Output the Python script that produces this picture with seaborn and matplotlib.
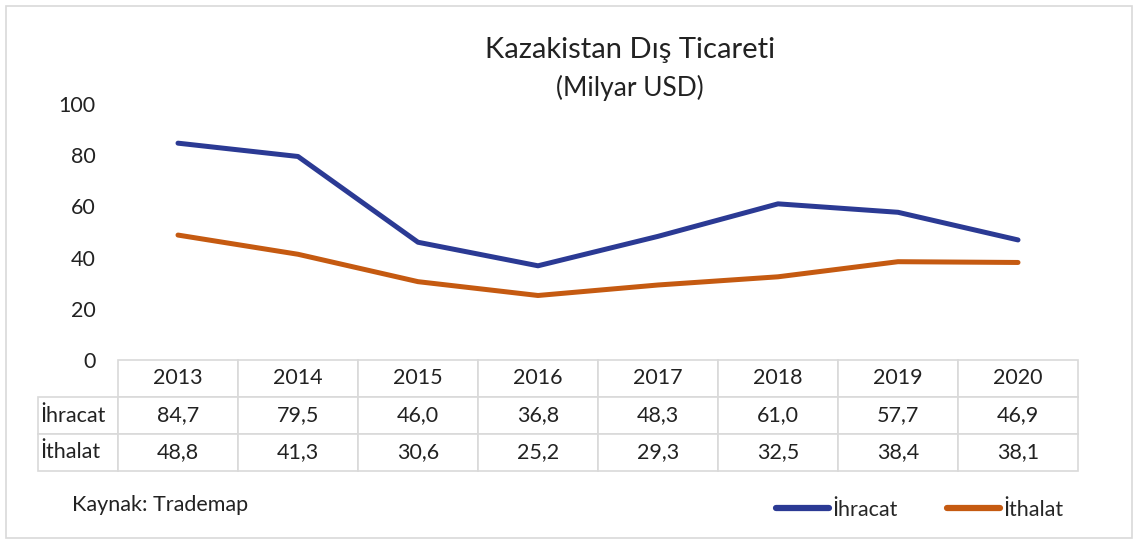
import pandas as pd
import matplotlib.pyplot as plt
import seaborn as sns
from matplotlib.patches import Rectangle
from matplotlib.lines import Line2D
from matplotlib.table import Table

years = [2013, 2014, 2015, 2016, 2017, 2018, 2019, 2020]
ihracat = [84.7, 79.5, 46.0, 36.8, 48.3, 61.0, 57.7, 46.9]
ithalat = [48.8, 41.3, 30.6, 25.2, 29.3, 32.5, 38.4, 38.1]
series_names = ['İhracat', 'İthalat']
colors = ['#2b3a94', '#c55a11']

sns.set_theme(style='white')
plt.rcParams['font.family'] = ['Lato', 'DejaVu Sans']

df = pd.DataFrame({'year': years * 2,
                   'value': ihracat + ithalat,
                   'seri': [series_names[0]] * len(years) + [series_names[1]] * len(years)})

W, H = 1140, 542
fig = plt.figure(figsize=(W / 100, H / 100), dpi=100)
fig.patches.append(Rectangle((6 / W, 4 / H), 1126 / W, 532 / H, transform=fig.transFigure,
                             fill=False, edgecolor='#d9d9d9', linewidth=1.2))

ax = fig.add_axes([118 / W, (H - 360) / H, 960 / W, 256 / H])
sns.lineplot(data=df, x='year', y='value', hue='seri', palette=colors,
             linewidth=3.6, ax=ax, legend=False)
ax.set_xlim(years[0] - 0.5, years[-1] + 0.5)
ax.set_ylim(0, 100)
ax.set_yticks(range(0, 101, 20))
ax.set_xticks([])
ax.set_xlabel('')
ax.set_ylabel('')
ax.tick_params(axis='y', labelsize=15.5, length=0, pad=16, colors='#222222')
sns.despine(ax=ax, left=True, bottom=True)

# data table under the plot (built cell by cell so widths stay fixed)
fmt = lambda v: f'{v:.1f}'.replace('.', ',')
lab_w = 80 / 960
row_h = 37 / 256
tbl = Table(ax, bbox=[-lab_w, -3 * row_h, 1 + lab_w, 3 * row_h])
for j, y in enumerate(years):
    tbl.add_cell(0, j + 1, width=1 / 8, height=row_h, text=str(y), loc='center')
for i, (name, vals) in enumerate(zip(series_names, [ihracat, ithalat])):
    tbl.add_cell(i + 1, 0, width=lab_w, height=row_h, text=name, loc='left')
    for j, v in enumerate(vals):
        tbl.add_cell(i + 1, j + 1, width=1 / 8, height=row_h, text=fmt(v), loc='center')
tbl.auto_set_font_size(False)
tbl.set_fontsize(15.5)
for (r, c), cell in tbl.get_celld().items():
    cell.set_edgecolor('#d9d9d9')
    cell.set_linewidth(1.2)
    cell.get_text().set_color('#222222')
    if c == 0:
        cell.PAD = 0.03
ax.add_table(tbl)

fig.text(630 / W, 1 - 50 / H, 'Kazakistan Dış Ticareti', ha='center', va='center',
         fontsize=21, color='#222222')
fig.text(630 / W, 1 - 88 / H, '(Milyar USD)', ha='center', va='center',
         fontsize=19, color='#222222')
fig.text(72 / W, 1 - 505 / H, 'Kaynak: Trademap', ha='left', va='center',
         fontsize=15.5, color='#222222')

handles = [Line2D([], [], color=c, linewidth=4.5, solid_capstyle='round') for c in colors]
fig.legend(handles, series_names, loc='center left', bbox_to_anchor=(757 / W, 1 - 510 / H),
           ncol=2, frameon=False, fontsize=15.5, handlelength=2.45, handletextpad=0.15,
           columnspacing=2.3)

fig.savefig('out.png', dpi=100)
